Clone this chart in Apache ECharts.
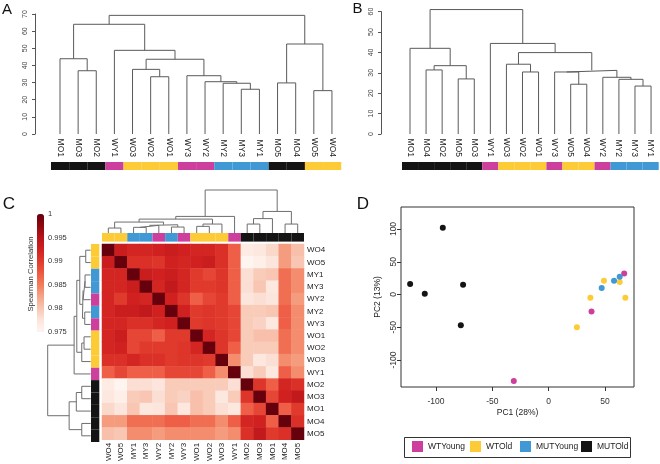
<!DOCTYPE html>
<html><head><meta charset="utf-8">
<script src="https://cdn.jsdelivr.net/npm/echarts@6/dist/echarts.min.js"></script>
<style>html,body{margin:0;padding:0;background:#fff}#c{width:660px;height:464px}</style>
</head><body><div id="c"></div>
<script>
const FONT = '"Liberation Sans", Arial, Helvetica, sans-serif';

// ---------- groups ----------
const groupNames = ['WTYoung', 'WTOld', 'MUTYoung', 'MUTOld'];
const groupColors = { WTYoung: '#CC3F9C', WTOld: '#FDCB35', MUTYoung: '#4098D4', MUTOld: '#141414' };
function groupOf(s) { return s.startsWith('WY') ? 'WTYoung' : s.startsWith('WO') ? 'WTOld' : s.startsWith('MY') ? 'MUTYoung' : 'MUTOld'; }

// ---------- Panel A: dendrogram ----------
const leavesA = ['MO1','MO3','MO2','WY1','WO3','WO2','WO1','WY3','WY2','MY2','MY3','MY1','MO5','MO4','WO5','WO4'];
// [child, child, height]; numbers refer to earlier merges
const mergesA = [
  ['MO3','MO2',36.9], ['MO1',0,43.9], ['WO2','WO1',33.4], ['WO3',2,37.7],
  ['MY3','MY1',26.1], ['MY2',4,29.6], ['WY2',5,30.5], ['WY3',6,34.0],
  [3,7,43.6], ['WY1',8,48.8], [1,9,64.0], ['MO5','MO4',29.8],
  ['WO5','WO4',25.3], [11,12,52.5], [10,13,69.2]
];
const axisA = { min: 0, max: 70, interval: 10 };

// ---------- Panel B: dendrogram ----------
const leavesB = ['MO1','MO4','MO2','MO5','MO3','WY1','WO3','WO2','WO1','WY3','WO5','WO4','WY2','MY2','MY3','MY1'];
const mergesB = [
  ['MO4','MO2',31.4], ['MO5','MO3',27.0], [0,1,33.5], ['MO1',2,42.0],
  ['WO2','WO1',30.4], ['WO3',4,34.2], ['WO5','WO4',24.4], ['WY3',6,30.4],
  ['MY3','MY1',23.5], ['MY2',8,26.8], ['WY2',9,27.8], [7,10,31.2],
  [5,11,39.9], ['WY1',12,44.4], [3,13,61.0]
];
const axisB = { min: 0, max: 60, interval: 10 };

// ---------- Panel C: correlation heatmap ----------
const leavesC = ['WO4','WO5','MY1','MY3','WY2','MY2','WY3','WO1','WO2','WO3','WY1','MO2','MO3','MO1','MO4','MO5'];
const mergesC = [
  ['WO4','WO5',5.0], ['MY1','MY3',5.7], [1,'WY2',7.7], ['MY2','WY3',6.0],
  [2,3,8.3], [0,4,11.0], ['WO1','WO2',6.7], [6,'WO3',9.0],
  [5,7,14.0], [8,'WY1',16.7], ['MO2','MO3',9.0], [10,'MO1',14.5],
  ['MO4','MO5',9.0], [11,12,21.7], [9,13,43.3]
];
const corrRows = [
  [1, .9932, .992, .992, .9925, .9932, .9925, .992, .992, .991, .987, .9765, .977, .9785, .983, .9805],
  [.9932, 1, .991, .991, .9905, .9925, .992, .9925, .9932, .991, .987, .975, .976, .9775, .983, .980],
  [.992, .992, 1, .9932, .9925, .9932, .992, .990, .989, .9905, .987, .978, .9795, .980, .986, .984],
  [.992, .992, .9932, 1, .992, .994, .992, .990, .990, .9905, .987, .978, .980, .977, .986, .984],
  [.992, .990, .9925, .992, 1, .9925, .9905, .987, .989, .990, .987, .9775, .978, .9775, .986, .983],
  [.992, .9932, .9932, .994, .9925, 1, .9925, .990, .9905, .990, .989, .9795, .9795, .980, .987, .984],
  [.992, .992, .991, .991, .992, .9925, 1, .990, .9905, .990, .989, .9795, .979, .977, .987, .984],
  [.992, .9932, .989, .989, .987, .990, .990, 1, .992, .9905, .989, .9795, .9805, .9805, .986, .984],
  [.992, .9925, .989, .990, .990, .990, .9905, .992, 1, .9905, .987, .9795, .9795, .9795, .986, .984],
  [.991, .991, .992, .991, .991, .990, .9905, .9905, .990, 1, .984, .9795, .977, .978, .984, .983],
  [.987, .989, .987, .987, .987, .989, .989, .989, .987, .984, 1, .978, .9795, .977, .987, .984],
  [.9765, .975, .978, .978, .9775, .9795, .9795, .9795, .9795, .9795, .978, 1, .9905, .987, .992, .991],
  [.977, .976, .9795, .980, .978, .9795, .979, .9805, .9795, .977, .9795, .9905, 1, .989, .9925, .994],
  [.9785, .9775, .980, .977, .9775, .980, .977, .9805, .9795, .978, .977, .987, .989, 1, .987, .990],
  [.983, .983, .986, .986, .986, .987, .987, .986, .986, .984, .987, .992, .9925, .987, 1, .991],
  [.9805, .980, .984, .984, .983, .984, .984, .984, .984, .983, .984, .991, .994, .990, .991, 1]
];
const corrScale = { min: 0.975, max: 1, interval: 0.005 };
const corrPalette = ['#FFF5F0','#FCE5DC','#F8C6B2','#F6A488','#F27C5C','#EE5842','#E03A2C','#D02020','#B8141A','#90080F','#67000D'];

// ---------- Panel D: PCA ----------
const pcaWTYoung = [[-31,-132],[38,-26],[67,32]];
const pcaWTOld = [[25,-50],[37,-5],[49,21],[63,19],[68,-5]];
const pcaMUTYoung = [[47,10],[58,21],[63,27]];
const pcaMUTOld = [[-123,16],[-110,1],[-94,102],[-76,15],[-78,-47]];
const pcaXTicks = [-100, -50, 0, 50];
const pcaYTicks = [-100, -50, 0, 50, 100];
const pcaXRange = [-131.1, 75.7];
const pcaYRange = [-141.2, 133.6];

// ---------- helpers ----------
function dendroSegments(leaves, merges) {
  const pos = {};
  leaves.forEach((l, i) => { pos[l] = i; });
  const mp = [], mh = [];
  const get = c => typeof c === 'number' ? [mp[c], mh[c]] : [pos[c], 0];
  const segs = [];
  merges.forEach((m, i) => {
    const a = get(m[0]), b = get(m[1]), h = m[2];
    segs.push([[a[0], a[1]], [a[0], h], [b[0], h], [b[0], b[1]]]);
    mp[i] = (a[0] + b[0]) / 2; mh[i] = h;
  });
  return segs;
}
function lineSeries(segs, idx, color, swap) {
  return segs.map(s => ({
    type: 'line', xAxisIndex: idx, yAxisIndex: idx,
    data: swap ? s.map(p => [p[1], p[0]]) : s,
    symbol: 'none', lineStyle: { color: color, width: 1 },
    silent: true, clip: false, animation: false
  }));
}
const hiddenVal = (g, min, max, inverse) => ({ type: 'value', gridIndex: g, min, max, inverse: !!inverse, show: false, axisLine: { onZero: false } });
const colorItems = leaves => leaves.map(l => ({ value: 1, itemStyle: { color: groupColors[groupOf(l)] } }));

// ---------- layout ----------
const grids = [
  { left: 35, top: 14, width: 305, height: 120 },        // 0 A dendro
  { left: 51, top: 162, width: 290.2, height: 8 },       // 1 A bar
  { left: 381, top: 11.6, width: 279, height: 122.4 },   // 2 B dendro
  { left: 402, top: 162, width: 256.7, height: 8 },      // 3 B bar
  { left: 102, top: 190, width: 202, height: 43 },       // 4 C col dendro
  { left: 102, top: 233, width: 202, height: 8.6 },      // 5 C top bar
  { left: 47.7, top: 244, width: 43, height: 198 },      // 6 C row dendro
  { left: 91, top: 244, width: 8.3, height: 198 },       // 7 C left bar
  { left: 102, top: 244, width: 202, height: 198 },      // 8 heatmap
  { left: 37, top: 214, width: 7, height: 118 },         // 9 colorbar axis
  { left: 401, top: 207, width: 233, height: 180, show: true, borderColor: '#333', borderWidth: 1, backgroundColor: 'transparent' } // 10 PCA
];

const dendroYAxis = (g, ax) => ({
  type: 'value', gridIndex: g, min: ax.min, max: ax.max, interval: ax.interval,
  axisLine: { show: true, onZero: false, lineStyle: { color: '#555', width: 1 } },
  axisTick: { show: true, length: 3, lineStyle: { color: '#555' } },
  axisLabel: { rotate: 90, margin: 6, fontSize: 7, color: '#444', fontFamily: FONT },
  splitLine: { show: false }
});
const leafLabelAxis = (g, leaves) => ({
  type: 'category', gridIndex: g, data: leaves, position: 'top',
  axisLine: { show: false, onZero: false }, axisTick: { show: false },
  axisLabel: { rotate: 90, interval: 0, margin: 5, fontSize: 8.5, color: '#222', fontFamily: FONT },
  splitLine: { show: false }
});

const xAxes = [
  hiddenVal(0, -1.379, 15.444),
  leafLabelAxis(1, leavesA),
  hiddenVal(2, -1.805, 15.557),
  leafLabelAxis(3, leavesB),
  hiddenVal(4, -0.5, 15.5),
  { type: 'category', gridIndex: 5, data: leavesC, show: false },
  hiddenVal(6, 0, 43.3, true),
  hiddenVal(7, 0, 1),
  { type: 'category', gridIndex: 8, data: leavesC, position: 'bottom',
    axisLine: { show: false, onZero: false }, axisTick: { show: false },
    axisLabel: { rotate: 90, interval: 0, margin: 3, fontSize: 8, color: '#222', fontFamily: FONT } },
  hiddenVal(9, 0, 1),
  { type: 'value', gridIndex: 10, min: pcaXRange[0], max: pcaXRange[1], position: 'bottom',
    name: 'PC1 (28%)', nameLocation: 'middle', nameGap: 21,
    nameTextStyle: { fontSize: 8.5, color: '#222', fontFamily: FONT },
    axisLine: { show: false, onZero: false },
    axisTick: { show: true, length: 4, customValues: pcaXTicks, lineStyle: { color: '#333' } },
    axisLabel: { customValues: pcaXTicks, margin: 10, fontSize: 8.5, color: '#333', fontFamily: FONT },
    splitLine: { show: false } }
];
const yAxes = [
  dendroYAxis(0, axisA),
  hiddenVal(1, 0, 1),
  dendroYAxis(2, axisB),
  hiddenVal(3, 0, 1),
  hiddenVal(4, 0, 43.3),
  hiddenVal(5, 0, 1),
  hiddenVal(6, -0.5, 15.5, true),
  { type: 'category', gridIndex: 7, data: leavesC, inverse: true, show: false },
  { type: 'category', gridIndex: 8, data: leavesC, inverse: true, position: 'right',
    axisLine: { show: false, onZero: false }, axisTick: { show: false },
    axisLabel: { interval: 0, margin: 3, fontSize: 8, color: '#222', fontFamily: FONT } },
  { type: 'value', gridIndex: 9, min: corrScale.min, max: corrScale.max, interval: corrScale.interval, position: 'right',
    axisLine: { show: false, onZero: false }, axisTick: { show: false }, splitLine: { show: false },
    axisLabel: { margin: 4, fontSize: 7.5, color: '#333', fontFamily: FONT } },
  { type: 'value', gridIndex: 10, min: pcaYRange[0], max: pcaYRange[1], position: 'left',
    name: 'PC2 (13%)', nameLocation: 'middle', nameGap: 19,
    nameTextStyle: { fontSize: 8.5, color: '#222', fontFamily: FONT },
    axisLine: { show: false, onZero: false },
    axisTick: { show: true, length: 4, customValues: pcaYTicks, lineStyle: { color: '#333' } },
    axisLabel: { customValues: pcaYTicks, rotate: 90, margin: 3, fontSize: 8.5, color: '#333', fontFamily: FONT },
    splitLine: { show: false } }
];

// ---------- series ----------
const series = [];
series.push(...lineSeries(dendroSegments(leavesA, mergesA), 0, '#5a5a5a', false));
series.push({ type: 'bar', xAxisIndex: 1, yAxisIndex: 1, data: colorItems(leavesA), barWidth: '100%', silent: true, animation: false });
series.push(...lineSeries(dendroSegments(leavesB, mergesB), 2, '#5a5a5a', false));
series.push({ type: 'bar', xAxisIndex: 3, yAxisIndex: 3, data: colorItems(leavesB), barWidth: '100%', silent: true, animation: false });
series.push(...lineSeries(dendroSegments(leavesC, mergesC), 4, '#6e6e6e', false));
series.push({ type: 'bar', xAxisIndex: 5, yAxisIndex: 5, data: colorItems(leavesC), barWidth: '100%', silent: true, animation: false });
series.push(...lineSeries(dendroSegments(leavesC, mergesC), 6, '#6e6e6e', true));
series.push({ type: 'bar', xAxisIndex: 7, yAxisIndex: 7, data: colorItems(leavesC), barWidth: '100%', silent: true, animation: false });
const heatData = [];
corrRows.forEach((row, i) => row.forEach((v, j) => heatData.push([j, i, v])));
const heatIndex = series.length;
series.push({ type: 'heatmap', xAxisIndex: 8, yAxisIndex: 8, data: heatData, silent: true, animation: false });
const pcaSets = { WTYoung: pcaWTYoung, WTOld: pcaWTOld, MUTYoung: pcaMUTYoung, MUTOld: pcaMUTOld };
groupNames.forEach(g => series.push({
  type: 'scatter', name: g, xAxisIndex: 10, yAxisIndex: 10, data: pcaSets[g],
  symbol: 'circle', symbolSize: 6, itemStyle: { color: groupColors[g], opacity: 1 }, silent: true, animation: false
}));

const legendX = [412, 470, 520, 581];
const legends = groupNames.map((g, i) => ({
  data: [g], left: legendX[i], top: 441, padding: 0, itemWidth: 11, itemHeight: 11, icon: 'rect',
  selectedMode: false, textStyle: { fontSize: 8.5, color: '#222', fontFamily: FONT }
}));

const letter = (t, x, y, s) => ({ type: 'text', x, y, style: { text: t, fontSize: s, fontFamily: FONT, fill: '#111', align: 'center', verticalAlign: 'middle' } });

const option = {
  animation: false,
  backgroundColor: '#fff',
  grid: grids,
  xAxis: xAxes,
  yAxis: yAxes,
  series: series,
  legend: legends,
  visualMap: [{
    type: 'continuous', seriesIndex: heatIndex, min: corrScale.min, max: corrScale.max,
    calculable: false, hoverLink: false, orient: 'vertical', left: 37, top: 214,
    itemWidth: 7, itemHeight: 118, padding: 0, text: null,
    inRange: { color: corrPalette }, borderWidth: 0
  }],
  graphic: [
    letter('A', 7, 10, 15), letter('B', 357.5, 9, 15), letter('C', 9, 204.5, 17), letter('D', 363, 204.5, 17),
    { type: 'text', x: 30.5, y: 274, rotation: Math.PI / 2,
      style: { text: 'Spearman Correlation', fontSize: 7.7, fontFamily: FONT, fill: '#333', align: 'center', verticalAlign: 'middle' } },
    { type: 'rect', shape: { x: 404.5, y: 437.5, width: 226, height: 20 }, style: { fill: 'none', stroke: '#333', lineWidth: 1 } }
  ]
};
const chart = echarts.init(document.getElementById('c'), null, { renderer: 'canvas', width: 660, height: 464 });
chart.setOption(option);
</script></body></html>
